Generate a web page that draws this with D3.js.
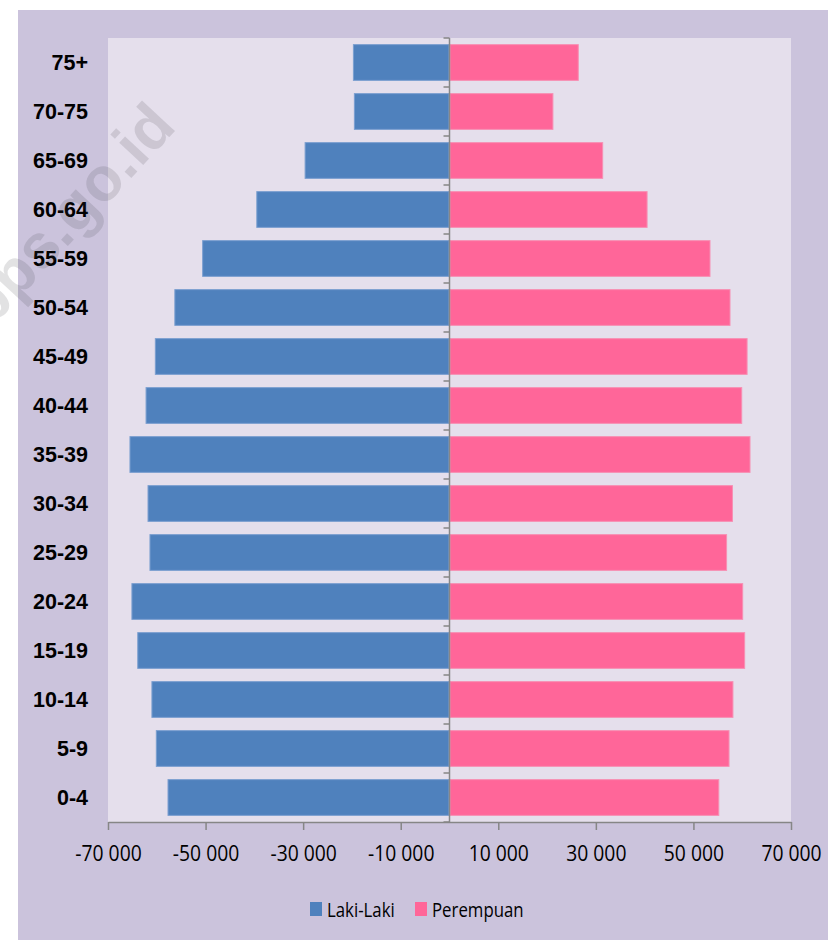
<!DOCTYPE html>
<html>
<head>
<meta charset="utf-8">
<script src="https://cdn.jsdelivr.net/npm/d3@7"></script>
<style>
  html, body { margin: 0; padding: 0; background: #ffffff; }
  svg { display: block; }
</style>
</head>
<body>
<div id="chart"></div>
<script>
// ---- data ----
const categories = ["75+", "70-75", "65-69", "60-64", "55-59", "50-54", "45-49", "40-44",
                    "35-39", "30-34", "25-29", "20-24", "15-19", "10-14", "5-9", "0-4"];
const male   = [19800, 19600, 29700, 39600, 50700, 56400, 60400, 62300,
                65600, 61900, 61500, 65200, 64000, 61100, 60200, 57800];
const female = [26500, 21300, 31500, 40600, 53500, 57600, 61100, 60000,
                61700, 58100, 56900, 60200, 60600, 58200, 57400, 55300];
const xTicks = [-70000, -50000, -30000, -10000, 10000, 30000, 50000, 70000];
const seriesNames = ["Laki-Laki", "Perempuan"];

// ---- layout ----
const W = 828, H = 940;
const plot = { left: 108, right: 791, top: 38, bottom: 822 };
const colors = { male: "#4f81bd", maleEdge: "#7b9fd0", female: "#ff6699", femaleEdge: "#f78fb3" };

const svg = d3.select("#chart").append("svg").attr("width", W).attr("height", H);

// outer frame
svg.append("rect").attr("x", 18).attr("y", 10).attr("width", W - 18).attr("height", H - 10)
  .attr("fill", "#cbc3dc");
// plot area
svg.append("rect").attr("x", plot.left).attr("y", plot.top)
  .attr("width", plot.right - plot.left).attr("height", plot.bottom - plot.top)
  .attr("fill", "#e5dfec");

const x = d3.scaleLinear().domain([-70000, 70000]).range([plot.left, plot.right]);
const y = d3.scaleBand().domain(categories).range([plot.top, plot.bottom])
  .paddingInner(0.25).paddingOuter(0.125);

const rows = categories.map((c, i) => ({ c, m: male[i], f: female[i] }));

// male bars
svg.append("g").selectAll("rect").data(rows).join("rect")
  .attr("x", d => x(-d.m) + 0.5).attr("y", d => y(d.c) + 0.5)
  .attr("width", d => x(0) - x(-d.m) - 1).attr("height", y.bandwidth() - 1)
  .attr("fill", colors.male).attr("stroke", colors.maleEdge).attr("stroke-width", 1);
// female bars
svg.append("g").selectAll("rect").data(rows).join("rect")
  .attr("x", x(0) + 0.5).attr("y", d => y(d.c) + 0.5)
  .attr("width", d => x(d.f) - x(0) - 1).attr("height", y.bandwidth() - 1)
  .attr("fill", colors.female).attr("stroke", colors.femaleEdge).attr("stroke-width", 1);

// x axis
const fmt = d3.formatLocale({ decimal: ",", thousands: " ", grouping: [3], currency: ["", ""], minus: "-" }).format(",d");
const xAxis = svg.append("g").attr("transform", `translate(0,${plot.bottom})`)
  .call(d3.axisBottom(x).tickValues(xTicks).tickFormat(fmt).tickSizeInner(8).tickSizeOuter(0).tickPadding(16));
xAxis.select(".domain").attr("stroke", "#868686").attr("stroke-width", 1.5);
xAxis.selectAll(".tick line").attr("stroke", "#868686").attr("stroke-width", 1.5);
xAxis.selectAll(".tick text").attr("fill", "#000").style("font-family", "'Open Sans', sans-serif")
  .style("font-size", "21px").attr("transform", "scale(0.92,1)");

// vertical axis at zero with boundary ticks to the left
const vx = x(0);
svg.append("line").attr("x1", vx).attr("x2", vx).attr("y1", plot.top).attr("y2", plot.bottom)
  .attr("stroke", "#868686").attr("stroke-width", 1.5);
const bounds = categories.map(c => y(c) - y.step() * y.paddingInner() / 2).concat([plot.bottom]);
svg.append("g").selectAll("line").data(bounds).join("line")
  .attr("x1", vx - 6).attr("x2", vx).attr("y1", d => d).attr("y2", d => d)
  .attr("stroke", "#868686").attr("stroke-width", 1.5);

// category labels
svg.append("g").selectAll("text").data(categories).join("text")
  .attr("x", 88).attr("y", c => y(c) + y.bandwidth() / 2)
  .attr("dy", "0.36em").attr("text-anchor", "end")
  .style("font-family", "'Liberation Sans', Arial, sans-serif").style("font-weight", "bold")
  .style("font-size", "21.5px").attr("fill", "#000").text(c => c);

// legend
const legend = svg.append("g");
const legendItems = [
  { name: seriesNames[0], color: colors.male, x: 310 },
  { name: seriesNames[1], color: colors.female, x: 415 }
];
legendItems.forEach(it => {
  legend.append("rect").attr("x", it.x).attr("y", 902).attr("width", 12).attr("height", 14).attr("fill", it.color);
  legend.append("text").attr("transform", `translate(${it.x + 17},917) scale(0.82,1)`)
    .style("font-family", "'Open Sans', sans-serif").style("font-size", "20.5px")
    .attr("fill", "#000").text(it.name);
});

// watermark
svg.append("text").attr("transform", "translate(68,214) rotate(-47)")
  .attr("text-anchor", "middle").attr("dy", "0.35em")
  .style("font-family", "'Liberation Sans', Arial, sans-serif").style("font-weight", "bold")
  .style("font-size", "62px").attr("fill", "rgba(60,60,70,0.15)").text("bps.go.id");
</script>
</body>
</html>
